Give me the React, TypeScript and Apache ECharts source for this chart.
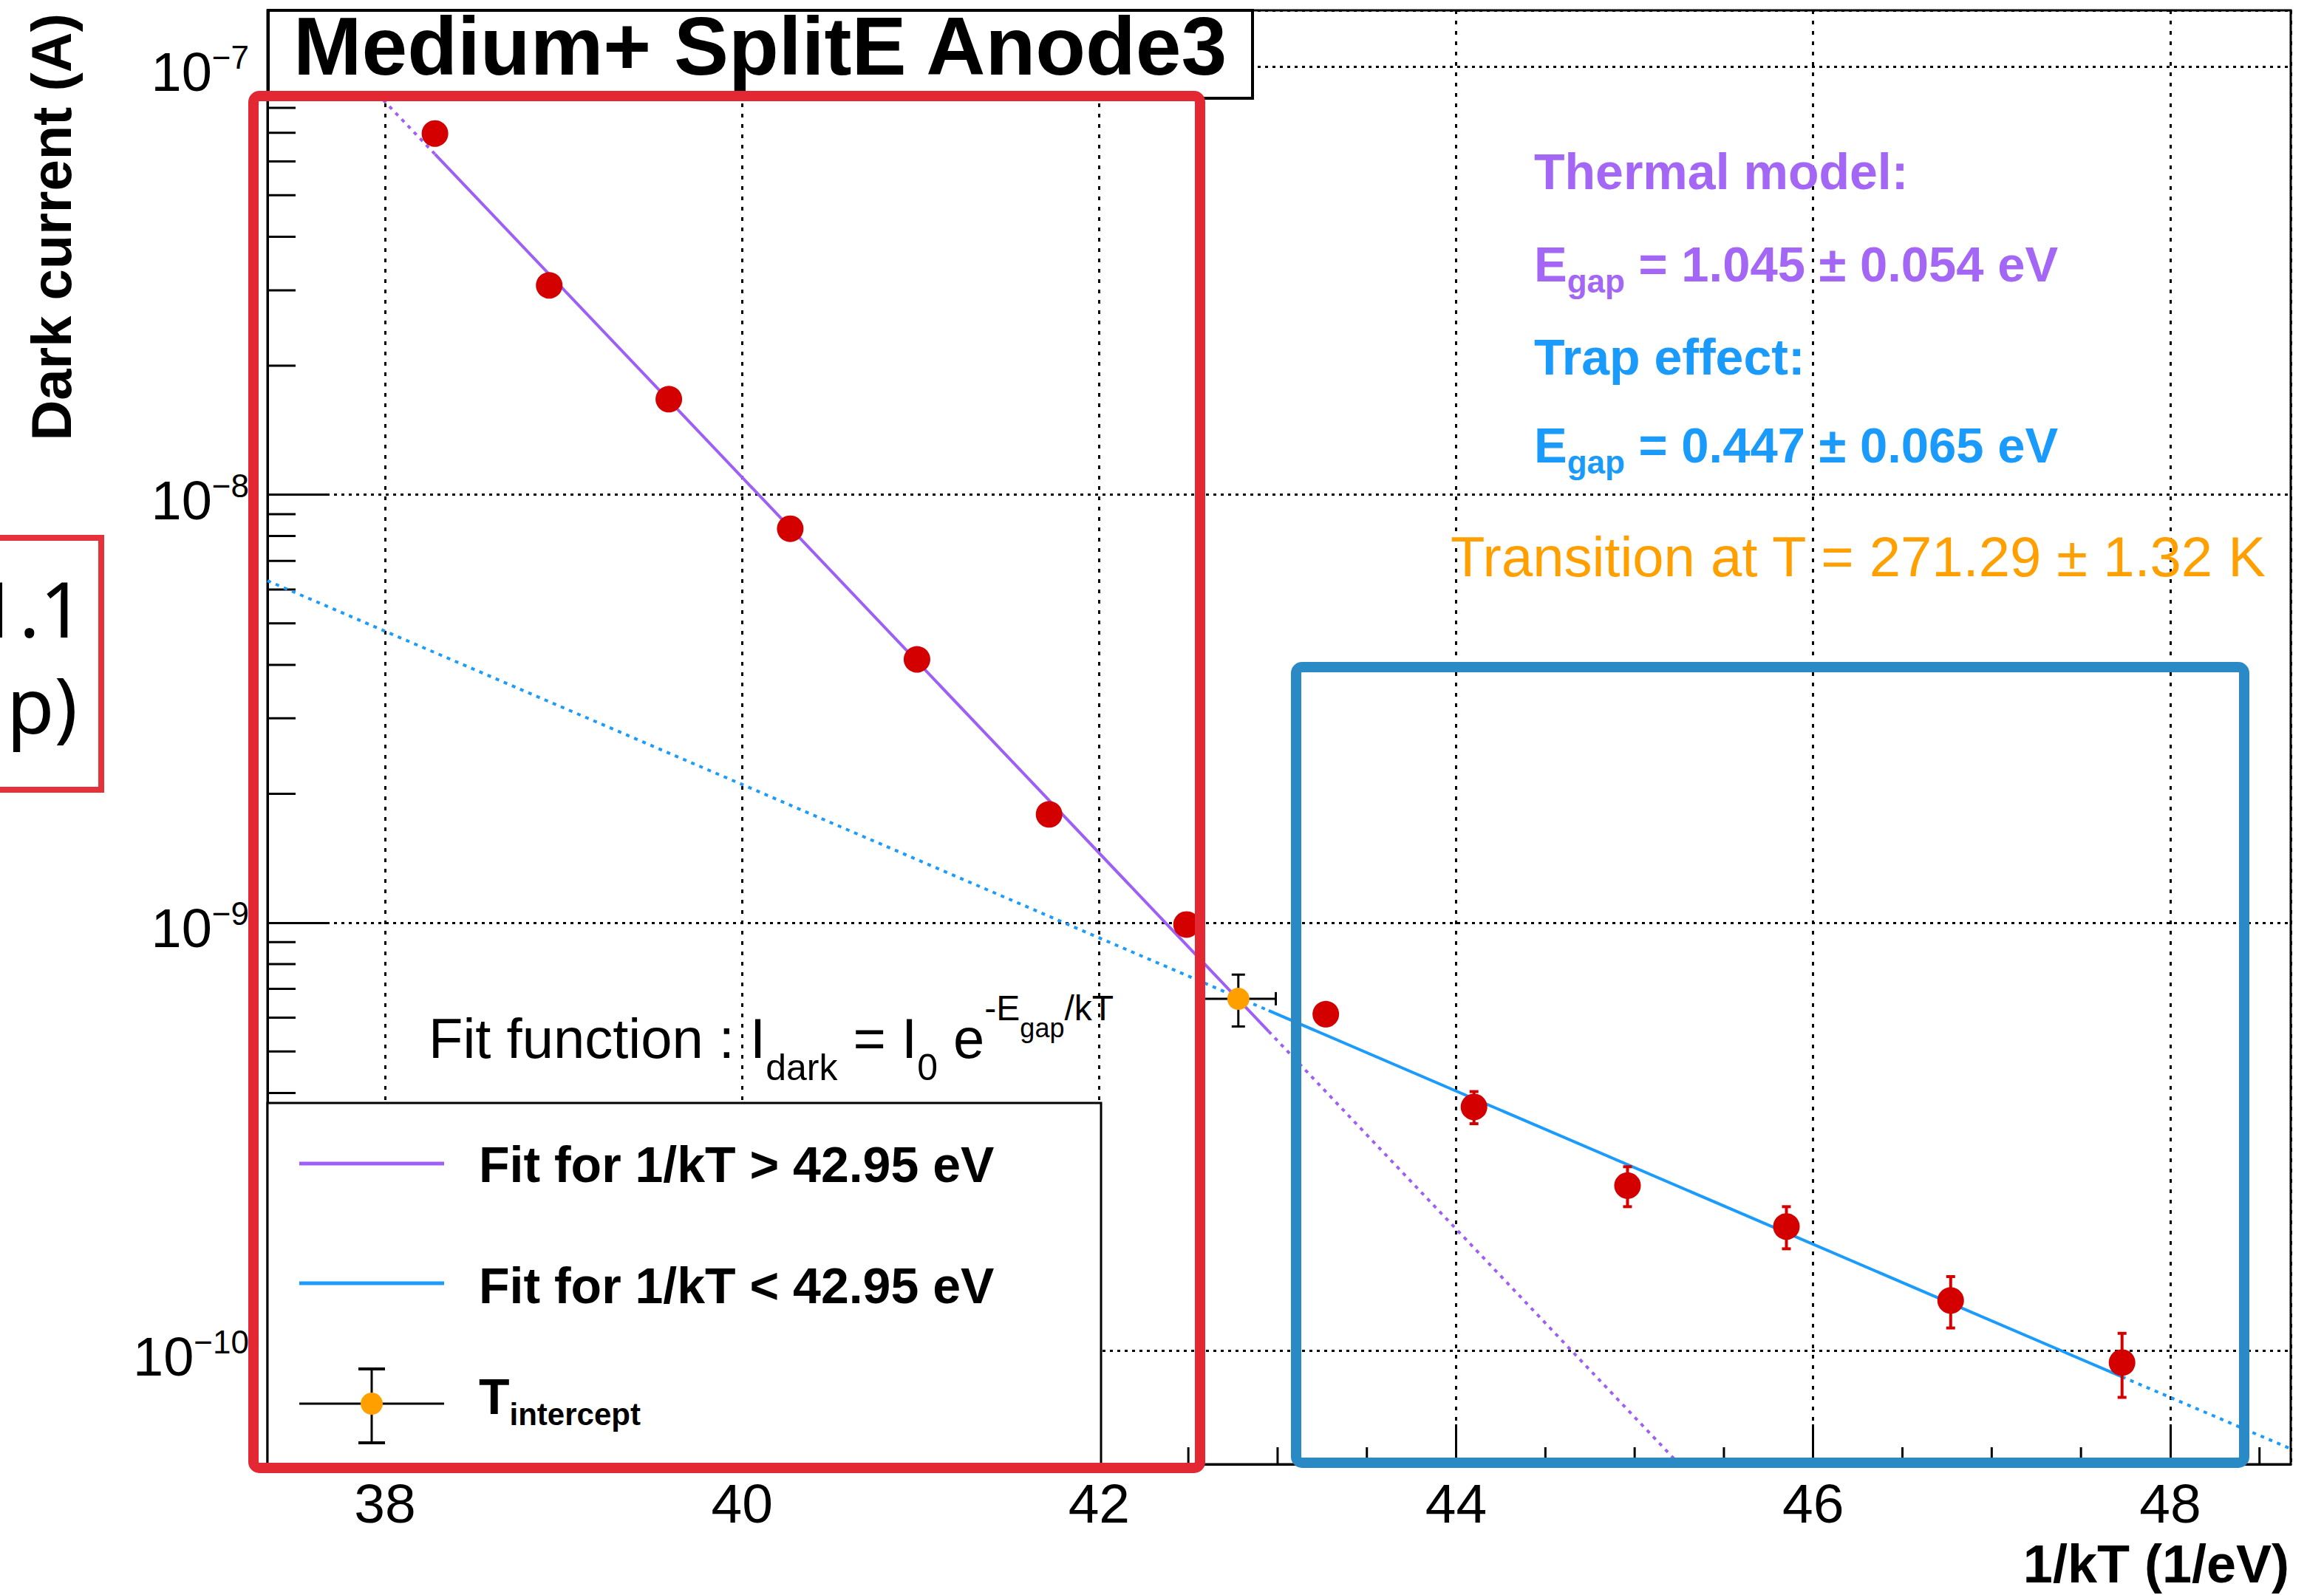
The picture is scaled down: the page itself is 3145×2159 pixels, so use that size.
import React, { useEffect, useRef } from "react";
import * as echarts from "echarts";

const FONT = '"Liberation Sans", Arial, Helvetica, sans-serif';

// ---------------- values ----------------
const xAxisRange = [37.342, 48.675];
const yAxisRange = [5.43e-11, 1.352e-7];

// measured points (1/kT, dark current, error)
const invKT = [38.28, 38.92, 39.59, 40.27, 40.98, 41.72, 42.49, 43.27, 44.1, 44.96, 45.85, 46.77, 47.73];
const darkCurrent = [6.97e-8, 3.08e-8, 1.67e-8, 8.32e-9, 4.12e-9, 1.79e-9, 9.9e-10, 6.11e-10, 3.71e-10, 2.43e-10, 1.95e-10, 1.31e-10, 9.38e-11];
const darkCurrentErr = [0, 0, 0, 0, 0, 0, 0, 0, 3.2e-11, 2.6e-11, 2.2e-11, 1.8e-11, 1.6e-11];

// transition (intercept) point
const interceptX = [42.78];
const interceptY = [6.64e-10];
const interceptXErr = [0.21];
const interceptYErr = [9.2e-11];

// thermal-model fit (purple): dotted / solid / dotted breakpoints
const thermalFitX = [37.51, 38.28, 42.95, 45.25];
const thermalFitY = [1.352e-7, 6.24e-8, 5.57e-10, 5.43e-11];
// trap-effect fit (blue): dotted / solid / dotted breakpoints
const trapFitX = [37.342, 42.95, 47.73, 48.675];
const trapFitY = [6.29e-9, 6.23e-10, 8.69e-11, 5.9e-11];

// minor tick positions
const xMinorTicks = [37.5, 38.5, 39, 39.5, 40.5, 41, 41.5, 42.5, 43, 43.5, 44.5, 45, 45.5, 46.5, 47, 47.5, 48.5];
const yMinorTicks = [
  6e-11, 7e-11, 8e-11, 9e-11,
  2e-10, 3e-10, 4e-10, 5e-10, 6e-10, 7e-10, 8e-10, 9e-10,
  2e-9, 3e-9, 4e-9, 5e-9, 6e-9, 7e-9, 8e-9, 9e-9,
  2e-8, 3e-8, 4e-8, 5e-8, 6e-8, 7e-8, 8e-8, 9e-8,
];

// ---------------- styling ----------------
const RED = "#d40000";
const ORANGE = "#ffa000";
const PURPLE_LINE = "#9d5ff5";
const PURPLE_TEXT = "#a466f5";
const BLUE_LINE = "#1b9cfd";
const BLUE_TEXT = "#1a9bfc";

function seg(xs: number[], ys: number[], a: number, b: number) {
  const out: number[][] = [];
  for (let i = a; i <= b; i++) out.push([xs[i], ys[i]]);
  return out;
}

function lineSeries(data: number[][], color: string, dotted: boolean) {
  return {
    type: "line",
    data,
    symbol: "none",
    silent: true,
    z: 3,
    lineStyle: { color, width: 4, type: dotted ? [5, 7] : "solid" },
  };
}

function buildOption() {
  const pts = invKT.map((x, i) => [x, darkCurrent[i], darkCurrentErr[i]]);
  const inter = interceptX.map((x, i) => [x, interceptY[i], interceptXErr[i], interceptYErr[i]]);

  return {
    animation: false,
    backgroundColor: "#ffffff",
    grid: {
      left: 362,
      right: 45,
      top: 14,
      bottom: 177,
      show: true,
      borderColor: "#000",
      borderWidth: 3,
      backgroundColor: "transparent",
      containLabel: false,
      outerBoundsMode: "none",
    },
    xAxis: {
      type: "value",
      min: xAxisRange[0],
      max: xAxisRange[1],
      splitNumber: 5,
      axisLine: { show: true, onZero: false, lineStyle: { color: "#000", width: 3 } },
      axisTick: { show: true, inside: true, length: 54, lineStyle: { color: "#000", width: 3 } },
      minorTick: { show: false },
      axisLabel: {
        show: true,
        showMinLabel: false,
        showMaxLabel: false,
        margin: 13,
        color: "#000",
        fontSize: 75,
        lineHeight: 80,
        fontFamily: FONT,
      },
      splitLine: { show: true, lineStyle: { color: "#000", width: 3, type: [5, 9] } },
    },
    yAxis: {
      type: "log",
      logBase: 10,
      min: yAxisRange[0],
      max: yAxisRange[1],
      axisLine: { show: true, onZero: false, lineStyle: { color: "#000", width: 3 } },
      axisTick: { show: true, inside: true, length: 84, lineStyle: { color: "#000", width: 3 } },
      minorTick: { show: false },
      axisLabel: {
        show: true,
        showMinLabel: false,
        showMaxLabel: false,
        margin: 25,
        padding: [16, 0, 0, 0],
        formatter: (v: number) => {
          const e = Math.round(Math.log10(v));
          return "{b|10}{s|\u2212" + Math.abs(e) + "}";
        },
        rich: {
          b: { fontSize: 74, fontFamily: FONT, color: "#000", lineHeight: 84 },
          s: { fontSize: 44, fontFamily: FONT, color: "#000", lineHeight: 44, verticalAlign: "top" },
        },
      },
      splitLine: { show: true, lineStyle: { color: "#000", width: 3, type: [4, 6] } },
    },
    series: [
      // minor ticks, y axis
      {
        type: "custom",
        silent: true,
        z: 1,
        data: yMinorTicks.map((v) => [xAxisRange[0], v]),
        renderItem: (params: any, api: any) => {
          const p = api.coord([api.value(0), api.value(1)]);
          return {
            type: "line",
            shape: { x1: p[0], y1: p[1], x2: p[0] + 38, y2: p[1] },
            style: { stroke: "#000", lineWidth: 3 },
          };
        },
      },
      // minor ticks, x axis
      {
        type: "custom",
        silent: true,
        z: 1,
        data: xMinorTicks.map((v) => [v, yAxisRange[0]]),
        renderItem: (params: any, api: any) => {
          const p = api.coord([api.value(0), api.value(1)]);
          return {
            type: "line",
            shape: { x1: p[0], y1: p[1], x2: p[0], y2: p[1] - 23 },
            style: { stroke: "#000", lineWidth: 3 },
          };
        },
      },
      // thermal fit (purple)
      lineSeries(seg(thermalFitX, thermalFitY, 0, 1), PURPLE_LINE, true),
      lineSeries(seg(thermalFitX, thermalFitY, 1, 2), PURPLE_LINE, false),
      lineSeries(seg(thermalFitX, thermalFitY, 2, 3), PURPLE_LINE, true),
      // trap fit (blue)
      lineSeries(seg(trapFitX, trapFitY, 0, 1), BLUE_LINE, true),
      lineSeries(seg(trapFitX, trapFitY, 1, 2), BLUE_LINE, false),
      lineSeries(seg(trapFitX, trapFitY, 2, 3), BLUE_LINE, true),
      // error bars of measured points
      {
        type: "custom",
        silent: true,
        z: 4,
        data: pts,
        renderItem: (params: any, api: any) => {
          const x = api.value(0);
          const y = api.value(1);
          const e = api.value(2);
          if (!e) return { type: "group", children: [] };
          const t = api.coord([x, y + e]);
          const b = api.coord([x, y - e]);
          const c = 6;
          const st = { stroke: RED, lineWidth: 4 };
          return {
            type: "group",
            children: [
              { type: "line", shape: { x1: t[0], y1: t[1], x2: b[0], y2: b[1] }, style: st },
              { type: "line", shape: { x1: t[0] - c, y1: t[1], x2: t[0] + c, y2: t[1] }, style: st },
              { type: "line", shape: { x1: b[0] - c, y1: b[1], x2: b[0] + c, y2: b[1] }, style: st },
            ],
          };
        },
      },
      // measured points
      {
        type: "scatter",
        silent: true,
        z: 5,
        data: pts.map((p) => [p[0], p[1]]),
        symbol: "circle",
        symbolSize: 36,
        itemStyle: { color: RED, borderWidth: 0, opacity: 1 },
      },
      // intercept error bars
      {
        type: "custom",
        silent: true,
        z: 6,
        data: inter,
        renderItem: (params: any, api: any) => {
          const x = api.value(0);
          const y = api.value(1);
          const xe = api.value(2);
          const ye = api.value(3);
          const l = api.coord([x - xe, y]);
          const r = api.coord([x + xe, y]);
          const t = api.coord([x, y + ye]);
          const b = api.coord([x, y - ye]);
          const c = 9;
          const st = { stroke: "#000", lineWidth: 3 };
          return {
            type: "group",
            children: [
              { type: "line", shape: { x1: l[0], y1: l[1], x2: r[0], y2: r[1] }, style: st },
              { type: "line", shape: { x1: t[0], y1: t[1], x2: b[0], y2: b[1] }, style: st },
              { type: "line", shape: { x1: t[0] - c, y1: t[1], x2: t[0] + c, y2: t[1] }, style: st },
              { type: "line", shape: { x1: b[0] - c, y1: b[1], x2: b[0] + c, y2: b[1] }, style: st },
              { type: "line", shape: { x1: l[0], y1: l[1] - c, x2: l[0], y2: l[1] + c }, style: st },
              { type: "line", shape: { x1: r[0], y1: r[1] - c, x2: r[0], y2: r[1] + c }, style: st },
            ],
          };
        },
      },
      {
        type: "scatter",
        silent: true,
        z: 7,
        data: inter.map((p) => [p[0], p[1]]),
        symbol: "circle",
        symbolSize: 30,
        itemStyle: { color: ORANGE, borderWidth: 0, opacity: 1 },
      },
    ],
    graphic: [
      // title box
      {
        type: "rect",
        z: 100,
        shape: { x: 363, y: 14, width: 1332, height: 119 },
        style: { fill: "#fff", stroke: "#000", lineWidth: 4 },
      },
      {
        type: "text",
        z: 101,
        x: 397,
        y: 63,
        style: {
          text: "Medium+ SplitE Anode3",
          fill: "#000",
          fontSize: 111,
          fontWeight: "bold",
          fontFamily: FONT,
          verticalAlign: "middle",
          align: "left",
        },
      },
      // y axis title
      {
        type: "text",
        z: 101,
        x: 69,
        y: 18,
        rotation: Math.PI / 2,
        style: {
          text: "Dark current (A)",
          fill: "#000",
          fontSize: 76,
          fontWeight: "bold",
          fontFamily: FONT,
          verticalAlign: "middle",
          align: "right",
        },
      },
      // x axis title
      {
        type: "text",
        z: 101,
        x: 3098,
        y: 2117,
        style: {
          text: "1/kT (1/eV)",
          fill: "#000",
          fontSize: 72,
          fontWeight: "bold",
          fontFamily: FONT,
          verticalAlign: "middle",
          align: "right",
        },
      },
      // annotations (top right)
      {
        type: "text",
        z: 101,
        x: 2076,
        y: 232,
        style: { text: "Thermal model:", fill: PURPLE_TEXT, fontSize: 68, fontWeight: "bold", fontFamily: FONT, verticalAlign: "middle" },
      },
      {
        type: "text",
        z: 101,
        x: 2076,
        y: 357,
        style: {
          text: "{e|E}{g|gap}{e| = 1.045 \u00b1 0.054 eV}",
          verticalAlign: "middle",
          rich: {
            e: { fill: PURPLE_TEXT, color: PURPLE_TEXT, fontSize: 67, fontWeight: "bold", fontFamily: FONT, lineHeight: 90 },
            g: { fill: PURPLE_TEXT, color: PURPLE_TEXT, fontSize: 44, fontWeight: "bold", fontFamily: FONT, lineHeight: 48, verticalAlign: "bottom" },
          },
        },
      },
      {
        type: "text",
        z: 101,
        x: 2076,
        y: 483,
        style: { text: "Trap effect:", fill: BLUE_TEXT, fontSize: 68, fontWeight: "bold", fontFamily: FONT, verticalAlign: "middle" },
      },
      {
        type: "text",
        z: 101,
        x: 2076,
        y: 602,
        style: {
          text: "{e|E}{g|gap}{e| = 0.447 \u00b1 0.065 eV}",
          verticalAlign: "middle",
          rich: {
            e: { fill: BLUE_TEXT, color: BLUE_TEXT, fontSize: 67, fontWeight: "bold", fontFamily: FONT, lineHeight: 90 },
            g: { fill: BLUE_TEXT, color: BLUE_TEXT, fontSize: 44, fontWeight: "bold", fontFamily: FONT, lineHeight: 48, verticalAlign: "bottom" },
          },
        },
      },
      {
        type: "text",
        z: 101,
        x: 1963,
        y: 753,
        style: { text: "Transition at T = 271.29 \u00b1 1.32 K", fill: ORANGE, fontSize: 76, fontFamily: FONT, verticalAlign: "middle" },
      },
      // fit function
      {
        type: "text",
        z: 101,
        x: 580,
        y: 1405,
        style: {
          text: "{m|Fit function : I}{sb|dark}{m| = I}{sb|0}{m| e}{sp|-E}{ss|gap}{sp|/kT}",
          verticalAlign: "middle",
          rich: {
            m: { fill: "#000", color: "#000", fontSize: 76, fontFamily: FONT, lineHeight: 130 },
            sb: { fill: "#000", color: "#000", fontSize: 50, fontFamily: FONT, lineHeight: 62, verticalAlign: "bottom" },
            sp: { fill: "#000", color: "#000", fontSize: 48, fontFamily: FONT, lineHeight: 62, verticalAlign: "top" },
            ss: { fill: "#000", color: "#000", fontSize: 36, fontFamily: FONT, height: 102, lineHeight: 102, verticalAlign: "top" },
          },
        },
      },
      // legend box
      {
        type: "rect",
        z: 100,
        shape: { x: 362, y: 1493, width: 1128, height: 489 },
        style: { fill: "#fff", stroke: "#000", lineWidth: 3 },
      },
      {
        type: "line",
        z: 101,
        shape: { x1: 405, y1: 1575, x2: 601, y2: 1575 },
        style: { stroke: PURPLE_LINE, lineWidth: 5 },
      },
      {
        type: "text",
        z: 101,
        x: 648,
        y: 1576,
        style: { text: "Fit for 1/kT > 42.95 eV", fill: "#000", fontSize: 68, fontWeight: "bold", fontFamily: FONT, verticalAlign: "middle" },
      },
      {
        type: "line",
        z: 101,
        shape: { x1: 405, y1: 1737, x2: 601, y2: 1737 },
        style: { stroke: BLUE_LINE, lineWidth: 5 },
      },
      {
        type: "text",
        z: 101,
        x: 648,
        y: 1740,
        style: { text: "Fit for 1/kT < 42.95 eV", fill: "#000", fontSize: 68, fontWeight: "bold", fontFamily: FONT, verticalAlign: "middle" },
      },
      { type: "line", z: 101, shape: { x1: 405, y1: 1900, x2: 601, y2: 1900 }, style: { stroke: "#000", lineWidth: 3 } },
      { type: "line", z: 101, shape: { x1: 503, y1: 1853, x2: 503, y2: 1953 }, style: { stroke: "#000", lineWidth: 3 } },
      { type: "line", z: 101, shape: { x1: 485, y1: 1853, x2: 521, y2: 1853 }, style: { stroke: "#000", lineWidth: 4 } },
      { type: "line", z: 101, shape: { x1: 485, y1: 1953, x2: 521, y2: 1953 }, style: { stroke: "#000", lineWidth: 4 } },
      { type: "circle", z: 102, shape: { cx: 503, cy: 1900, r: 15 }, style: { fill: ORANGE } },
      {
        type: "text",
        z: 101,
        x: 648,
        y: 1890,
        style: {
          text: "{t|T}{i|intercept}",
          verticalAlign: "middle",
          rich: {
            t: { fill: "#000", color: "#000", fontSize: 68, fontWeight: "bold", fontFamily: FONT, lineHeight: 90 },
            i: { fill: "#000", color: "#000", fontSize: 42, fontWeight: "bold", fontFamily: FONT, lineHeight: 50, verticalAlign: "bottom" },
          },
        },
      },
      // hand-drawn highlight boxes
      {
        type: "rect",
        z: 120,
        shape: { x: 343, y: 130, width: 1281, height: 1857, r: 8 },
        style: { fill: "none", stroke: "#e32833", lineWidth: 14 },
      },
      {
        type: "rect",
        z: 120,
        shape: { x: 1754, y: 903, width: 1283, height: 1077, r: 8 },
        style: { fill: "none", stroke: "#2a8ac5", lineWidth: 14 },
      },
      // partial slide box at the left edge
      {
        type: "rect",
        z: 120,
        shape: { x: -20, y: 728, width: 157, height: 341 },
        style: { fill: "none", stroke: "#e5323a", lineWidth: 8 },
      },
      {
        type: "text",
        z: 121,
        x: 114,
        y: 822,
        style: { text: "1.1", fill: "#000", fontSize: 105, fontFamily: '"Noto Sans", sans-serif', align: "right", verticalAlign: "middle" },
      },
      {
        type: "text",
        z: 121,
        x: 105,
        y: 952,
        style: { text: "p)", fill: "#000", fontSize: 105, fontFamily: '"Noto Sans", sans-serif', align: "right", verticalAlign: "middle" },
      },
    ],
  };
}

export default function App() {
  const ref = useRef<HTMLDivElement>(null);
  useEffect(() => {
    if (!ref.current) return;
    const chart = echarts.init(ref.current, null, { renderer: "svg" });
    chart.setOption(buildOption() as any);
    return () => chart.dispose();
  }, []);
  return (
    <div
      ref={ref}
      style={{ position: "absolute", left: 0, top: 0, width: 3145, height: 2159, background: "#fff" }}
    />
  );
}
